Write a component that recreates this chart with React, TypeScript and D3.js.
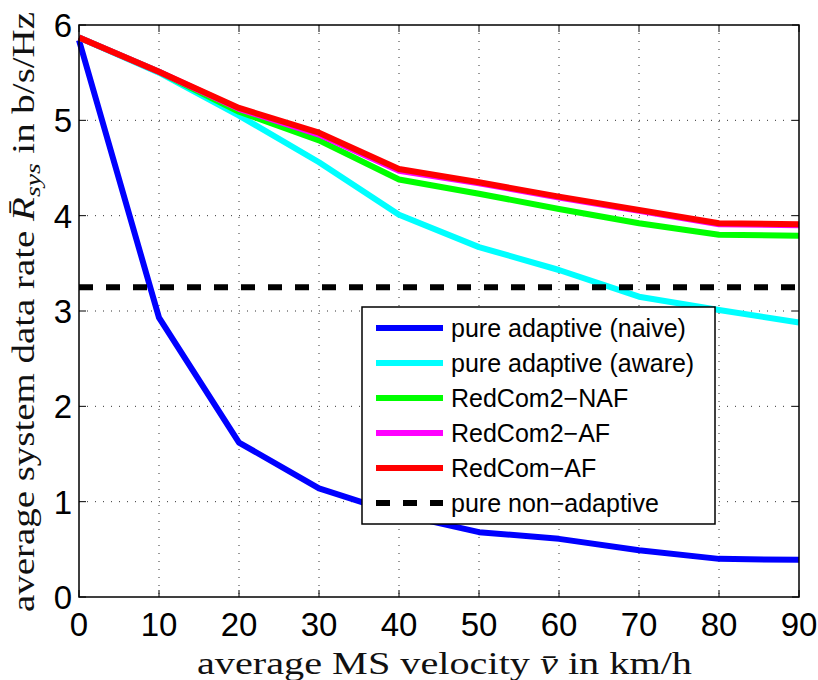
import React from "react";
import * as d3 from "d3";

// Average MS velocity in km/h
const velocity = [0, 10, 20, 30, 40, 50, 60, 70, 80, 90];
// Average system data rate in b/s/Hz for each scheme
const pureAdaptiveNaive = [5.84, 2.93, 1.62, 1.14, 0.87, 0.68, 0.61, 0.49, 0.4, 0.39];
const pureAdaptiveAware = [5.87, 5.5, 5.05, 4.56, 4.01, 3.67, 3.43, 3.15, 3.01, 2.88];
const redCom2NAF = [5.87, 5.51, 5.09, 4.79, 4.38, 4.23, 4.07, 3.92, 3.8, 3.79];
const redCom2AF = [5.87, 5.51, 5.12, 4.85, 4.47, 4.34, 4.19, 4.05, 3.91, 3.9];
const redComAF = [5.87, 5.51, 5.13, 4.87, 4.49, 4.35, 4.2, 4.06, 3.92, 3.91];
const pureNonAdaptive = 3.25;

const xTicks = [0, 10, 20, 30, 40, 50, 60, 70, 80, 90];
const yTicks = [0, 1, 2, 3, 4, 5, 6];

const seriesNames = [
  "pure adaptive (naive)",
  "pure adaptive (aware)",
  "RedCom2\u2212NAF",
  "RedCom2\u2212AF",
  "RedCom\u2212AF",
  "pure non\u2212adaptive",
];
const seriesColors = ["#0000ff", "#00ffff", "#00ff00", "#ff00ff", "#ff0000", "#000000"];

const W = 818;
const H = 680;
const M = { left: 79, top: 25, right: 799, bottom: 597 };

export default function App() {
  const x = d3.scaleLinear().domain([0, 90]).range([M.left, M.right]);
  const y = d3.scaleLinear().domain([0, 6]).range([M.bottom, M.top]);
  const line = d3
    .line<number>()
    .x((_, i) => x(velocity[i]))
    .y((d) => y(d));

  const curves = [pureAdaptiveNaive, pureAdaptiveAware, redCom2NAF, redCom2AF, redComAF];
  const lw = 6;
  const tickLen = 7;

  const legend = { x: 362, y: 307, w: 353, h: 217 };
  const rowY = (i: number) => 328 + i * 35;
  const serif = "'Liberation Serif', 'DejaVu Serif', serif";

  return (
    <svg
      width={W}
      height={H}
      style={{ position: "absolute", left: 0, top: 0, background: "#fff" }}
      fontFamily="'Liberation Sans', Arial, sans-serif"
    >
      <rect x={0} y={0} width={W} height={H} fill="#fff" />
      {/* grid */}
      <g stroke="#333" strokeWidth={1} strokeDasharray="1 7">
        {xTicks.slice(1, -1).map((t) => (
          <line key={"gx" + t} x1={x(t)} x2={x(t)} y1={M.top} y2={M.bottom} />
        ))}
        {yTicks.slice(1, -1).map((t) => (
          <line key={"gy" + t} x1={M.left} x2={M.right} y1={y(t)} y2={y(t)} />
        ))}
      </g>
      {/* ticks on all four sides */}
      <g stroke="#000" strokeWidth={1}>
        {xTicks.map((t) => (
          <g key={"tx" + t}>
            <line x1={x(t)} x2={x(t)} y1={M.bottom} y2={M.bottom - tickLen} />
            <line x1={x(t)} x2={x(t)} y1={M.top} y2={M.top + tickLen} />
          </g>
        ))}
        {yTicks.map((t) => (
          <g key={"ty" + t}>
            <line x1={M.left} x2={M.left + tickLen} y1={y(t)} y2={y(t)} />
            <line x1={M.right} x2={M.right - tickLen} y1={y(t)} y2={y(t)} />
          </g>
        ))}
      </g>
      {/* data */}
      <g fill="none" strokeWidth={lw} strokeLinejoin="round">
        {curves.map((c, i) => (
          <path key={i} d={line(c) || ""} stroke={seriesColors[i]} />
        ))}
        <line
          x1={x(0)}
          x2={x(90)}
          y1={y(pureNonAdaptive)}
          y2={y(pureNonAdaptive)}
          stroke="#000"
          strokeDasharray="14 13"
        />
      </g>
      {/* axes box */}
      <rect
        x={M.left}
        y={M.top}
        width={M.right - M.left}
        height={M.bottom - M.top}
        fill="none"
        stroke="#000"
        strokeWidth={1.5}
      />
      {/* tick labels */}
      <g fontSize={33} fill="#000">
        {xTicks.map((t) => (
          <text key={"lx" + t} x={x(t)} y={636} textAnchor="middle">
            {t}
          </text>
        ))}
        {yTicks.map((t) => (
          <text key={"ly" + t} x={72} y={y(t) + 12} textAnchor="end">
            {t}
          </text>
        ))}
      </g>
      {/* axis titles */}
      <text
        x={197}
        y={674}
        fontFamily={serif}
        fontSize={31}
        fill="#111"
        textLength={495}
        lengthAdjust="spacingAndGlyphs"
      >
        average MS velocity <tspan fontStyle="italic">v̄</tspan> in km/h
      </text>
      <text
        transform={`translate(34, 612) rotate(-90)`}
        fontFamily={serif}
        fontSize={31}
        fill="#111"
        textLength={600}
        lengthAdjust="spacingAndGlyphs"
      >
        average system data rate <tspan fontStyle="italic">R̄</tspan>
        <tspan fontStyle="italic" fontSize={22} dy={6}>
          sys
        </tspan>
        <tspan dy={-6}> in b/s/Hz</tspan>
      </text>
      {/* legend */}
      <rect
        x={legend.x}
        y={legend.y}
        width={legend.w}
        height={legend.h}
        fill="#fff"
        stroke="#000"
        strokeWidth={1.5}
      />
      {seriesNames.map((name, i) => (
        <g key={name}>
          <line
            x1={376}
            x2={443}
            y1={rowY(i)}
            y2={rowY(i)}
            stroke={seriesColors[i]}
            strokeWidth={lw}
            strokeDasharray={i === 5 ? "14 13" : undefined}
          />
          <text x={451} y={rowY(i) + 9} fontSize={25} fill="#000">
            {name}
          </text>
        </g>
      ))}
    </svg>
  );
}
